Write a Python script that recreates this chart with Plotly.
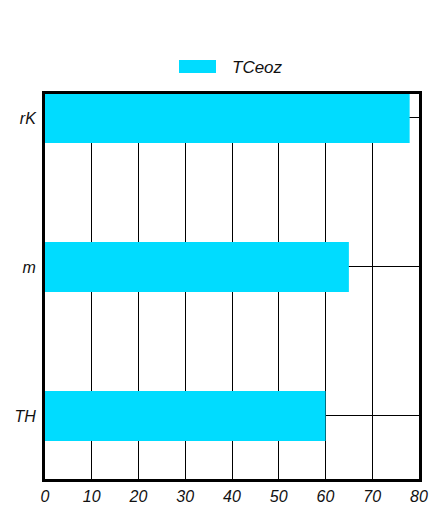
import plotly.graph_objects as go

categories = ["TH", "m", "rK"]
values = [60, 65, 78]
series_name = "TCeoz"
x_ticks = [0, 10, 20, 30, 40, 50, 60, 70, 80]

bar_color = "#00DCFF"
font_family = "Liberation Sans, Arial, sans-serif"

fig = go.Figure()
fig.add_trace(go.Bar(
    y=categories, x=values, orientation="h", name=series_name,
    marker=dict(color=bar_color, line=dict(width=0)),
    width=0.336, showlegend=False,
))

fig.update_layout(
    width=444, height=518,
    margin=dict(l=45, r=25, t=94, b=39),
    paper_bgcolor="white", plot_bgcolor="white",
    font=dict(family=font_family, color="#111111"),
    xaxis=dict(
        range=[0, 80], tickvals=x_ticks, ticktext=[str(t) for t in x_ticks],
        showgrid=True, gridcolor="black", gridwidth=1,
        showline=True, linecolor="black", linewidth=3, mirror=True,
        ticks="", ticklen=0, zeroline=False, ticklabelstandoff=1,
        tickfont=dict(size=16, style="italic", family=font_family, color="#111111"),
    ),
    yaxis=dict(
        categoryorder="array", categoryarray=categories,
        range=[-0.423, 2.161],
        showgrid=True, gridcolor="black", gridwidth=1,
        showline=True, linecolor="black", linewidth=3, mirror=True,
        ticks="", ticklen=0, zeroline=False, ticklabelstandoff=3,
        tickfont=dict(size=16, style="italic", family=font_family, color="#111111"),
    ),
)

# legend drawn as swatch + text
fig.add_shape(type="rect", xref="paper", yref="paper",
              x0=(179 - 45) / 374, x1=(216 - 45) / 374,
              y0=(479 - 73) / 385, y1=(479 - 60) / 385,
              fillcolor=bar_color, line=dict(width=0))
fig.add_annotation(xref="paper", yref="paper",
                   x=(230 - 45) / 374, y=(479 - 67) / 385,
                   xanchor="left", yanchor="middle", showarrow=False,
                   text=series_name,
                   font=dict(size=17, style="italic", family=font_family, color="#111111"))

fig.write_html("out.html")
